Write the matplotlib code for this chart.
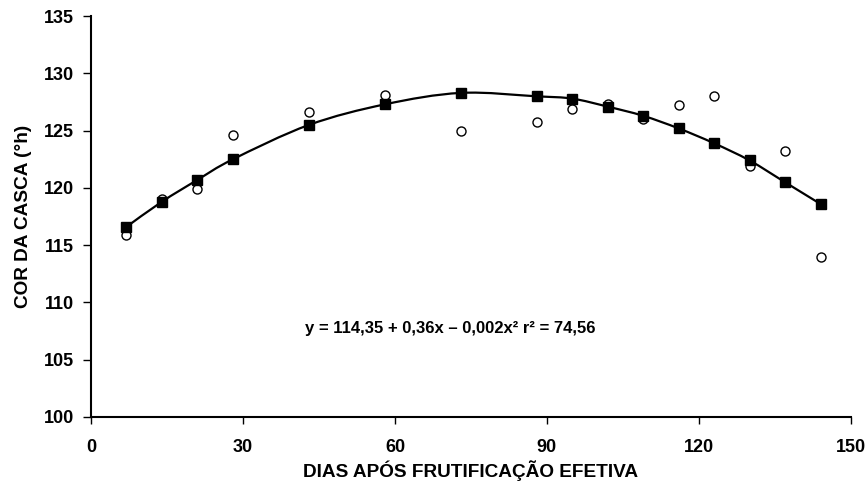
import numpy as np
import matplotlib
matplotlib.use("Agg")
import matplotlib.pyplot as plt
from matplotlib.path import Path
from matplotlib.patches import PathPatch

plt.rcParams['font.family'] = ['Liberation Sans', 'DejaVu Sans']
plt.rcParams['font.weight'] = 'bold'

# dias apos frutificacao efetiva
dias = [7, 14, 21, 28, 43, 58, 73, 88, 95, 102, 109, 116, 123, 130, 137, 144]
# valores observados (circulos)
observado = [115.9, 119.0, 119.9, 124.6, 126.6, 128.1, 125.0, 125.8,
             126.9, 127.3, 126.0, 127.2, 128.0, 121.9, 123.2, 114.0]
# valores estimados (quadrados)
estimado = [116.6, 118.8, 120.7, 122.5, 125.5, 127.3, 128.3, 128.0,
            127.8, 127.1, 126.3, 125.2, 123.9, 122.4, 120.5, 118.6]

equacao = "y = 114,35 + 0,36x \u2013 0,002x\u00b2 r\u00b2 = 74,56"


def smooth_path(xs, ys, t=1/6):
    # curva suavizada (bezier cubica) passando pelos pontos
    pts = np.column_stack([xs, ys]).astype(float)
    verts = [pts[0]]
    codes = [Path.MOVETO]
    n = len(pts)
    for i in range(n - 1):
        p0 = pts[i - 1] if i > 0 else pts[i]
        p1 = pts[i]
        p2 = pts[i + 1]
        p3 = pts[i + 2] if i + 2 < n else pts[i + 1]
        c1 = p1 + (p2 - p0) * t
        c2 = p2 - (p3 - p1) * t
        verts += [c1, c2, p2]
        codes += [Path.CURVE4] * 3
    return Path(verts, codes)


fig = plt.figure(figsize=(8.68, 4.9), dpi=100)
ax = fig.add_axes([0.1048, 0.149, 0.8755, 0.818])

ax.add_patch(PathPatch(smooth_path(dias, estimado), facecolor='none',
                       edgecolor='black', lw=1.6, zorder=2))
ax.plot(dias, observado, linestyle='none', marker='o', markersize=6.5,
        markerfacecolor='white', markeredgecolor='black', markeredgewidth=1.0, zorder=3)
ax.plot(dias, estimado, linestyle='none', marker='s', markersize=7,
        color='black', zorder=4)

ax.text(71, 107.35, equacao, ha='center', va='baseline', fontsize=12, fontweight='bold')

ax.set_xlim(0, 150)
ax.set_ylim(100, 135)
ax.set_xticks(np.arange(0, 151, 30))
ax.set_yticks(np.arange(100, 136, 5))
ax.tick_params(axis='x', direction='out', length=5, width=1, pad=11, labelsize=13)
ax.tick_params(axis='y', direction='out', length=6, width=1, pad=6, labelsize=13)
for lab in ax.get_xticklabels() + ax.get_yticklabels():
    lab.set_fontweight('bold')

for s in ['top', 'right']:
    ax.spines[s].set_visible(False)
for s in ['left', 'bottom']:
    ax.spines[s].set_linewidth(1.5)

ax.set_xlabel("DIAS APÓS FRUTIFICAÇÃO EFETIVA", fontsize=13.7, fontweight='bold', labelpad=3)
ax.set_ylabel("COR DA CASCA (°h)", fontsize=13.7, fontweight='bold', labelpad=9)

fig.savefig("out.png", dpi=100)
